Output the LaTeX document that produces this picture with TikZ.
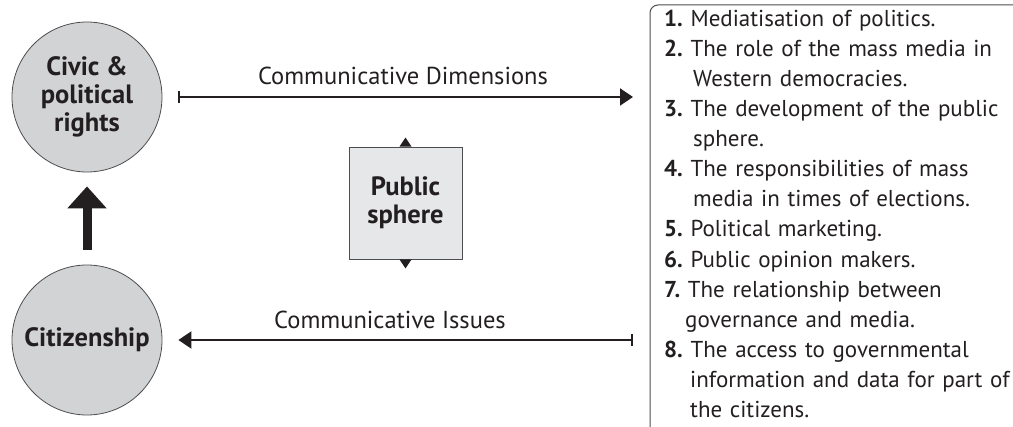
\documentclass[tikz,border=0pt]{standalone}
\usepackage{fontspec}
\setmainfont{PT Sans}
\usetikzlibrary{arrows.meta}
\definecolor{ink}{HTML}{231F20}
\definecolor{circfill}{HTML}{D1D3D4}
\definecolor{boxfill}{HTML}{E6E7E8}
\definecolor{edge}{HTML}{4D4D4F}
\newcommand\listitem[2]{\par\hangindent=#2\hangafter=1\noindent\textbf{#1}\ }
\begin{document}
\begin{tikzpicture}[x=1pt,y=-1pt,
  circ/.style={circle, draw=edge, line width=0.8pt, fill=circfill, minimum size=150pt, inner sep=0pt, align=center, font=\fontsize{26.5}{28}\selectfont\bfseries, text=ink},
  psbox/.style={rectangle, draw=edge, line width=0.8pt, fill=boxfill, minimum width=113pt, minimum height=112pt, inner sep=0pt, align=center, font=\fontsize{26.5}{28}\selectfont\bfseries, text=ink},
  lbl/.style={font=\fontsize{24.5}{28}\selectfont, text=ink, inner sep=0pt},
  listtxt/.style={font=\fontsize{23}{30.1}\selectfont, text=ink, text width=370pt, inner sep=0pt},
  conn/.style={draw=ink, line width=2pt},
  bigarrow/.style={draw=ink, line width=9pt, -{Triangle[length=22pt,width=38pt]}},
  frame/.style={draw=edge, line width=1pt, rounded corners=8pt}
]
\useasboundingbox (0,0) rectangle (1013,427);
\clip (0,0) rectangle (1013,427);

\node[circ] (civ) at (87,97) {Civic \&\\political\\rights};
\node[circ] (cit) at (87,340) {Citizenship};
\node[psbox] (ps) at (405.5,203) {Public\\sphere};

\fill[ink] (ps.north) ++(-6,0) -- ++(12,0) -- ++(-6,-9) -- cycle;
\fill[ink] (ps.south) ++(-6,0) -- ++(12,0) -- ++(-6,9) -- cycle;

\draw[frame] (650,434) -- (650,5) -- (1040,5);
\node[listtxt, anchor=north west] (list) at (664,-4) {%
\parskip=0pt\parindent=0pt\raggedright
\listitem{1.}{29pt}Mediatisation of politics.
\listitem{2.}{29pt}The role of the mass media in\newline Western democracies.
\listitem{3.}{29pt}The development of the public\newline sphere.
\listitem{4.}{29pt}The responsibilities of mass\newline media in times of elections.
\listitem{5.}{29pt}Political marketing.
\listitem{6.}{29pt}Public opinion makers.
\listitem{7.}{21pt}The relationship between\newline governance and media.
\listitem{8.}{26pt}The access to governmental\newline information and data for part of\newline the citizens.\par};

\coordinate (dimEnd) at (633,97);
\coordinate (issStart) at (633,340);

\draw[conn, {Bar[width=12pt]}-{Triangle[length=13pt,width=17pt]}, shorten <=16pt] (civ) -- (dimEnd);
\draw[conn, {Bar[width=12pt]}-{Triangle[length=13pt,width=17pt]}, shorten >=16pt] (issStart) -- (cit);

\node[lbl] (dimlbl) at (403,76) {Communicative Dimensions};
\node[lbl] (isslbl) at (390,320) {Communicative Issues};

\draw[bigarrow, shorten <=15pt, shorten >=14pt] (cit) -- (civ);
\end{tikzpicture}
\end{document}
